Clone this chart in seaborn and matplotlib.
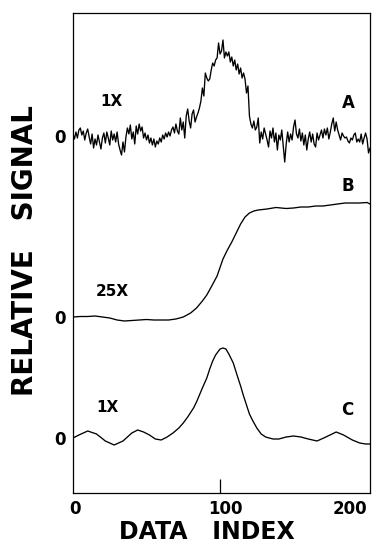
import matplotlib
matplotlib.use("Agg")
import matplotlib.pyplot as plt
import seaborn as sns
import pandas as pd
from matplotlib.transforms import ScaledTranslation

# ---------------- data (offsets from each trace's zero level) ----------------
A_index = list(range(0, 203))
A_values = [
    2, -3, 4, -2, 6, 8, 1, 5, -4, 3,
    7, -1, -8, 2, -12, -3, -9, 1, -6, -13,
    -2, 3, -7, 4, -2, -9, 5, -4, 2, -6,
    4, -8, -14, -19, -6, -16, -1, 8, 2, 11,
    -3, 4, -8, 10, 2, 12, 5, 9, -2, 3,
    -4, 1, -7, -2, -9, -3, -11, -5, -8, -2,
    -6, 1, -3, 3, -1, 4, 0, 6, 9, 3,
    12, 5, 2, 18, 6, 14, -2, 20, 27, 15,
    8, 22, 26, 14, 19, 23, 28, 35, 48, 40,
    63, 58, 55, 57, 66, 73, 70, 76, 78, 93,
    82, 85, 96, 78, 84, 80, 84, 74, 79, 70,
    76, 66, 72, 62, 68, 58, 63, 57, 43, 50,
    20, 12, 8, 15, 6, 9, 18, -7, 4, -3,
    8, 2, -4, -11, 5, -2, 8, -6, 3, -14,
    1, -4, 6, -10, -26, -8, 4, -6, 2, -4,
    9, 16, 2, -2, 7, -5, 3, -9, 1, -14,
    -3, 4, -6, 2, -8, -11, 3, -4, 1, 6,
    -2, 7, 1, 8, -3, 4, 12, 18, 5, 14,
    6, 1, -4, 3, 0, -2, -1, -5, -7, -2,
    -4, 1, 3, -6, -3, -6, 2, -8, -2, 3,
    -3, -17, -12,
]

B_index = [0, 5, 10, 15, 20, 25, 30, 35, 40, 45, 50, 55, 60, 65, 70, 75, 80,
           84, 88, 91, 94, 98, 102, 105, 108, 111, 114, 117, 120, 123, 126,
           132, 138, 145, 150, 155, 160, 165, 170, 175, 180, 185, 190, 195,
           200, 202]
B_values = [0, 0.5, 0.5, 1, 0, -1, -3, -4, -3.5, -3, -2.5, -3, -3, -3, -2, 0, 4,
            9, 16, 22, 30, 41, 58, 67, 75, 84, 93, 100, 104, 106, 107,
            108, 109.5, 108.5, 109, 110, 110, 111, 111, 112, 113, 114, 114,
            114, 114.5, 113]

C_index = [0, 4, 10, 16, 22, 28, 34, 40, 44, 48, 52, 56, 60, 64, 68, 72, 75,
           78, 82, 84, 86, 88, 91, 93, 95, 97, 99, 100, 102, 104, 106, 109,
           112, 114, 116, 118, 120, 122, 125, 128, 131, 136, 140, 145, 150,
           155, 160, 166, 172, 179, 184, 190, 195, 199, 202]
C_values = [0, 3, 7, 4, -3, -7, -3, 5, 8, 6, 3, -1, -2, 1, 5, 10, 15,
            21, 30, 36, 43, 50, 60, 69, 77, 83, 87, 89, 90, 89, 84, 75,
            61, 52, 42, 33, 24, 18, 10, 4, 1, -1, -1, 1, 2,
            1, -1, -3, 1, 6, 3, -2, -5, -6, -6]

zero_levels = [357, 176, 55]          # vertical position of each trace's zero
trace_names = ["A", "B", "C"]
gain_labels = ["1X", "25X", "1X"]
x_ticks = [0, 100, 200]
x_tick_labels = ["0", "100", "200"]

# ---------------- figure ----------------
sns.set_style("white")
plt.rcParams["font.family"] = ["DejaVu Sans"]
plt.rcParams.update({"text.color": "black", "axes.labelcolor": "black",
                     "xtick.color": "black", "ytick.color": "black"})

fig = plt.figure(figsize=(3.76, 5.49), dpi=100)
ax = fig.add_axes([73 / 376, 1 - 493 / 549, 297 / 376, 480 / 549])

traces = [(A_index, A_values), (B_index, B_values), (C_index, C_values)]
for (xs, vals), z in zip(traces, zero_levels):
    df = pd.DataFrame({"index": xs, "signal": [z + v for v in vals]})
    sns.lineplot(data=df, x="index", y="signal", ax=ax, color="black",
                 linewidth=0.95, estimator=None, sort=False)

ax.set_xlim(0, 202)
ax.set_ylim(0, 480)

# tick setup
ax.set_xticks(x_ticks, x_tick_labels, fontsize=12, fontweight="bold")
ax.set_yticks(zero_levels, ["0"] * len(zero_levels), fontsize=12, fontweight="bold")
ax.tick_params(axis="x", direction="in", length=10, width=0.9, pad=5,
               bottom=True, colors="black")
ax.tick_params(axis="y", length=0, pad=5, colors="black")
xt = ax.xaxis.get_major_ticks()
xt[0].tick1line.set_visible(False)
xt[2].tick1line.set_visible(False)
for lab, dx in zip(ax.get_xticklabels(), [2, 5, -17]):
    lab.set_transform(lab.get_transform() + ScaledTranslation(dx / 100, 0, fig.dpi_scale_trans))

for sp in ax.spines.values():
    sp.set_visible(True)
    sp.set_color("black")
    sp.set_linewidth(0.9)

# labels
ax.set_xlabel("DATA   INDEX", fontsize=17, fontweight="heavy", va="center")
ax.xaxis.set_label_coords((207 - 73) / 297, (493 - 532) / 480)
ax.set_ylabel("RELATIVE   SIGNAL", fontsize=20, fontweight="heavy", va="center")
ax.yaxis.set_label_coords((25 - 73) / 297, (493 - 251) / 480)

# annotations (pixel-derived positions converted to data coords)
def px2data(px, py):
    return (px - 73) / 297 * 202, 493 - py

gain_pos = [(111, 102), (112, 291), (107, 408)]
name_pos = [(348, 103), (348, 186), (347, 410)]
for g, (gx, gy) in zip(gain_labels, gain_pos):
    x, y = px2data(gx, gy)
    ax.text(x, y, g, fontsize=11, fontweight="heavy", ha="center", va="center")
for n, (nx, ny) in zip(trace_names, name_pos):
    x, y = px2data(nx, ny)
    ax.text(x, y, n, fontsize=12, fontweight="heavy", ha="center", va="center")

fig.savefig("out.png", dpi=100, facecolor="white")
